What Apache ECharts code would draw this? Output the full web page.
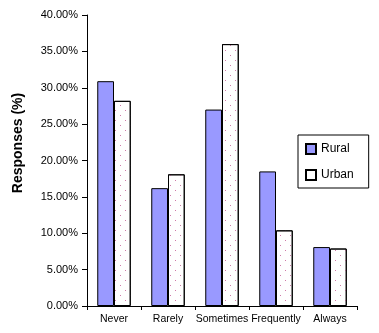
<!DOCTYPE html>
<html><head><meta charset="utf-8">
<script src="https://cdn.jsdelivr.net/npm/echarts@6/dist/echarts.min.js"></script>
<style>html,body{margin:0;padding:0;background:#fff}#c{width:379px;height:333px}</style>
</head><body><div id="c"></div>
<script>
var categories = ['Never', 'Rarely', 'Sometimes', 'Frequently', 'Always'];
var rural = [30.9, 16.2, 27.0, 18.5, 8.1];
var urban = [28.2, 18.1, 36.0, 10.4, 7.9];
var yTicks = {min: 0, max: 40, interval: 5};

var chart = echarts.init(document.getElementById('c'), null, {renderer: 'canvas'});
var font = 'Liberation Sans, Arial, sans-serif';
chart.setOption({
  animation: false,
  backgroundColor: '#fff',
  grid: {left: 87, right: 22, top: 15, bottom: 27, containLabel: false},
  legend: {
    orient: 'vertical', left: 298, top: 135,
    data: ['Rural', 'Urban'],
    borderColor: '#000', borderWidth: 1,
    padding: [7, 15, 6, 7],
    itemWidth: 10, itemHeight: 10, itemGap: 12,
    icon: 'rect',
    textStyle: {fontFamily: font, fontSize: 12, color: '#000', lineHeight: 14}
  },
  graphic: [{
    type: 'text', x: 18, y: 143, rotation: Math.PI / 2,
    style: {text: 'Responses (%)', fontFamily: font, fontSize: 14, fontWeight: 'bold',
      fill: '#000', align: 'center', verticalAlign: 'middle'}
  }],
  xAxis: {
    type: 'category', data: categories,
    axisLine: {lineStyle: {color: '#000', width: 1}},
    axisTick: {show: true, length: 4, lineStyle: {color: '#000'}},
    axisLabel: {fontFamily: font, fontSize: 10.5, color: '#000', margin: 8, interval: 0, hideOverlap: false}
  },
  yAxis: {
    type: 'value', min: yTicks.min, max: yTicks.max, interval: yTicks.interval,
    axisLine: {show: true, lineStyle: {color: '#000', width: 1}},
    axisTick: {show: true, length: 5, lineStyle: {color: '#000'}},
    splitLine: {show: false},
    axisLabel: {fontFamily: font, fontSize: 11, color: '#000', margin: 9,
      formatter: function (v) { return v.toFixed(2) + '%'; }}
  },
  series: [{
    name: 'Rural', type: 'bar', data: rural,
    barGap: '0%', barCategoryGap: '38%',
    itemStyle: {color: '#9999ff', borderColor: '#000', borderWidth: 1}
  }, {
    name: 'Urban', type: 'bar', data: urban,
    barGap: '0%', barCategoryGap: '38%',
    itemStyle: {color: '#fff', borderColor: '#000', borderWidth: 1,
      decal: {symbol: 'rect', symbolSize: 1, color: '#d07aa8',
        dashArrayX: [[1, 9], [0, 5, 1, 4]], dashArrayY: [1, 4], rotation: 0}}
  }]
});
</script></body></html>
